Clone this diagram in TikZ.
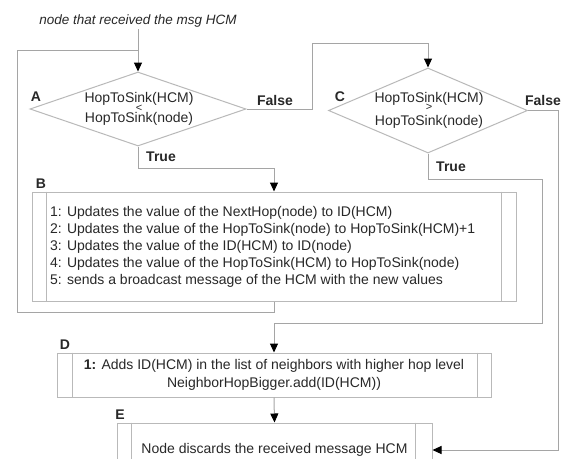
\documentclass[tikz,border=0pt]{standalone}
\usepackage{fontspec}
\setmainfont{Liberation Sans}
\usetikzlibrary{shapes.geometric,arrows.meta}
\definecolor{linecol}{RGB}{165,165,165}
\definecolor{boxcol}{RGB}{185,185,185}
\definecolor{txtcol}{RGB}{40,40,40}
\begin{document}
\begin{tikzpicture}[x=1pt,y=-1pt,
  conn/.style={draw=linecol, line width=1pt},
  arr/.style={conn, -{Triangle[color=black,width=8pt,length=9pt]}},
  dia/.style={diamond, draw=boxcol, line width=1pt, fill=white, inner sep=0pt},
  dtxt/.style={text=txtcol, inner sep=0pt, font=\fontsize{14}{14}\selectfont, text height=7pt, text depth=1pt},
  dsym/.style={text=txtcol, inner sep=0pt, font=\fontsize{11}{11}\selectfont, text height=4pt, text depth=0pt},
  pbox/.style={rectangle, draw=boxcol, line width=1pt, fill=white, inner sep=2pt, text=txtcol, font=\fontsize{14}{18}\selectfont},
  inner/.style={draw=boxcol, line width=1pt},
  lbl/.style={text=txtcol, font=\bfseries\fontsize{14}{16}\selectfont, inner sep=0pt}]
\useasboundingbox (0,0) rectangle (562,458);
\fill[white] (0,0) rectangle (562,458);
\clip (0,0) rectangle (562,458);

% title
\node[text=txtcol, font=\itshape\fontsize{13.5}{16}\selectfont, inner sep=2pt] (title) at (138,21) {node that received the msg HCM};

% decisions
\node[dia, minimum width=216pt, minimum height=74pt] (A) at (138,109) {};
\node[dtxt] (At1) at (139,99.5) {HopToSink(HCM)};
\node[dsym] (At2) at (139,109) {<};
\node[dtxt] (At3) at (139,119) {HopToSink(node)};
\node[dia, minimum width=199pt, minimum height=85pt] (C) at (428,110.5) {};
\node[dtxt] (Ct1) at (429,99) {HopToSink(HCM)};
\node[dsym] (Ct2) at (429,108.5) {>};
\node[dtxt] (Ct3) at (429,122) {HopToSink(node)};

% process boxes
\node[pbox, minimum width=484pt, minimum height=109pt] (B) at (274,246.5) {};
\draw[inner] ([xshift=15pt]B.north west) -- ([xshift=15pt]B.south west);
\draw[inner] ([xshift=-15pt]B.north east) -- ([xshift=-15pt]B.south east);
\node[text=txtcol, align=left, anchor=west, inner sep=0pt, font=\fontsize{14}{17}\selectfont] (Bt) at (50,247) {1: Updates the value of the NextHop(node) to ID(HCM)\\
2: Updates the value of the HopToSink(node) to HopToSink(HCM)+1\\
3: Updates the value of the ID(HCM) to ID(node)\\
4: Updates the value of the HopToSink(HCM) to HopToSink(node)\\
5: sends a broadcast message of the HCM with the new values};

\node[pbox, minimum width=434pt, minimum height=44pt, align=center] (D) at (274,375) {\textbf{1:} Adds ID(HCM) in the list of neighbors with higher hop level\\NeighborHopBigger.add(ID(HCM))};
\draw[inner] ([xshift=16pt]D.north west) -- ([xshift=16pt]D.south west);
\draw[inner] ([xshift=-14pt]D.north east) -- ([xshift=-14pt]D.south east);

\node[pbox, minimum width=315pt, minimum height=54pt] (E) at (274.5,450) {Node discards the received message HCM};
\draw[inner] ([xshift=15pt]E.north west) -- ([xshift=15pt]E.south west);
\draw[inner] ([xshift=-17pt]E.north east) -- ([xshift=-17pt]E.south east);

% labels
\node[lbl] (lA) at (36,97) {A};
\node[lbl] (lAf) at (275,100) {False};
\node[lbl] (lAt) at (161,157) {True};
\node[lbl] (lB) at (41,184) {B};
\node[lbl] (lC) at (340,97) {C};
\node[lbl] (lCf) at (543,100) {False};
\node[lbl] (lCt) at (451,167) {True};
\node[lbl] (lD) at (65,345) {D};
\node[lbl] (lE) at (120,415) {E};

% helper coordinates
\coordinate (join) at (138,50);
\coordinate (loopL) at (17,312);
\coordinate (af) at (312,43);
\coordinate (ct) at (542,323);
\coordinate (cf) at (558,450);

% connectors
\draw[arr] (title.south) -- (A.north);
\draw[conn] (B.south) |- (loopL) |- (join);
\draw[arr] (A.east) -| (af) -| (C.north);
\draw[arr] (A.south) -- ++(0,22) -| (B.north);
\draw[arr] (C.south) -- ++(0,26) -| (ct) -| (D.north);
\draw[arr] (C.east) -| (cf) -- (E.east);
\draw[arr] (D.south) -- (E.north);
\end{tikzpicture}
\end{document}
